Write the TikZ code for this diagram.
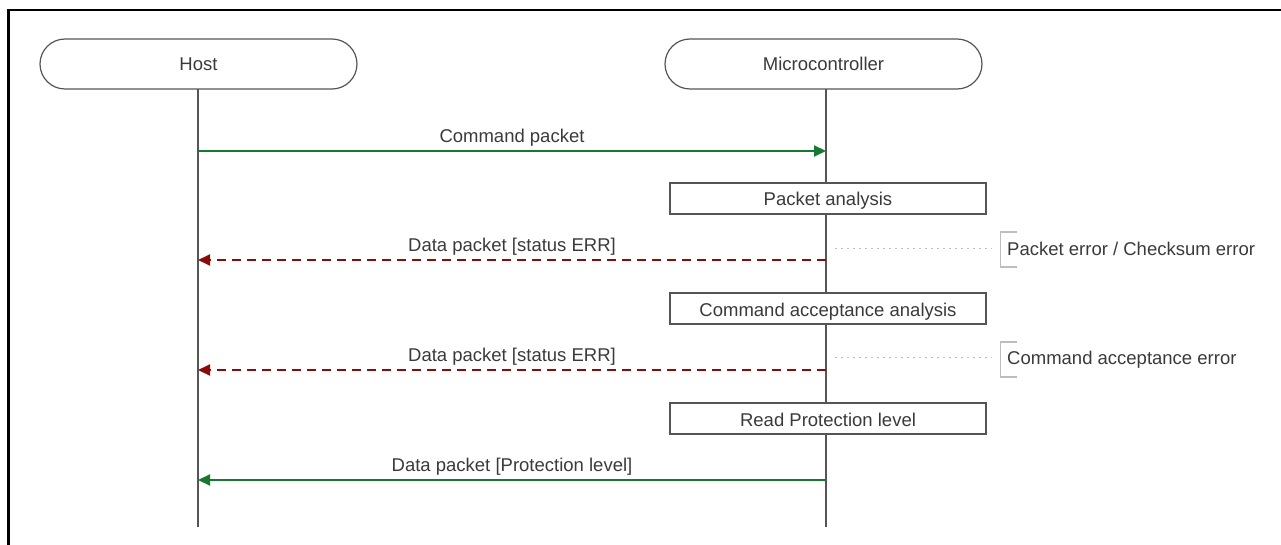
\documentclass[tikz,border=0pt]{standalone}
\usepackage{fontspec}
\setmainfont{Liberation Sans}
\usetikzlibrary{arrows.meta}
\definecolor{txt}{HTML}{3A3A3A}
\definecolor{okgreen}{HTML}{17792F}
\definecolor{errred}{HTML}{8B0A0A}
\definecolor{lifegrey}{HTML}{555555}
\definecolor{notegrey}{HTML}{BDBDBD}
\tikzset{
  every node/.style={font=\fontsize{18.5pt}{20pt}\selectfont, text=txt},
  actor/.style={draw=lifegrey, line width=1.2pt, rounded corners=25pt,
    minimum width=317pt, minimum height=50pt, inner sep=0pt},
  stepbox/.style={draw=lifegrey, line width=1.5pt, fill=white,
    minimum width=316pt, minimum height=31pt, inner sep=0pt},
  steptext/.style={inner sep=0pt, anchor=base},
  lifeline/.style={draw=lifegrey, line width=1.2pt},
  okmsg/.style={draw=okgreen, line width=2pt, -{Triangle[length=12pt,width=11pt]}},
  errmsg/.style={draw=errred, line width=2pt, dash pattern=on 9pt off 6pt,
    -{Triangle[length=12pt,width=11pt]}},
  msglabel/.style={inner sep=0pt, anchor=base},
  notelink/.style={draw=notegrey, line width=0.8pt, dash pattern=on 2pt off 4pt},
  notebracket/.style={draw=notegrey, line width=1.2pt},
  notetext/.style={inner sep=0pt, anchor=base west},
  frameline/.style={draw=black, line width=2.5pt}
}
\begin{document}
\begin{tikzpicture}[x=1pt, y=-1pt]
  \useasboundingbox (0,0) rectangle (1281,545);

  % outer frame edges
  \coordinate (frameTL) at (8.5,10);
  \coordinate (frameTR) at (1281,10);
  \coordinate (frameBL) at (8.5,545);
  \draw[frameline] (frameBL) -- (frameTL) -- (frameTR);

  % participants
  \node[actor] (host) at (198.5,64) {};
  \node[steptext] (hostname) at (198.5,71) {Host};
  \node[actor] (mcu) at (823.5,64) {};
  \node[steptext] (mcuname) at (823.5,71) {Microcontroller};

  % lifelines
  \coordinate (hostTop) at (198,89);
  \coordinate (hostEnd) at (198,527);
  \coordinate (mcuTop) at (826,89);
  \coordinate (mcuEnd) at (826,527);
  \draw[lifeline] (hostTop) -- (hostEnd);
  \draw[lifeline] (mcuTop) -- (mcuEnd);

  % message anchors on the lifelines
  \coordinate (h1) at (198,151);  \coordinate (m1) at (826,151);
  \coordinate (h2) at (198,260);  \coordinate (m2) at (826,260);
  \coordinate (h3) at (198,370);  \coordinate (m3) at (826,370);
  \coordinate (h4) at (198,480);  \coordinate (m4) at (826,480);

  % processing steps on the microcontroller
  \node[stepbox] (analysis) at (828,198.5) {};
  \node[steptext] (analysisT) at (828,206) {Packet analysis};
  \node[stepbox] (accept) at (828,308.5) {};
  \node[steptext] (acceptT) at (828,316) {Command acceptance analysis};
  \node[stepbox] (readprot) at (828,418.5) {};
  \node[steptext] (readprotT) at (828,426) {Read Protection level};

  % messages
  \draw[okmsg] (h1) -- (m1);
  \node[msglabel] (l1) at (512,142.5) {Command packet};

  \draw[errmsg] (m2) -- (h2);
  \node[msglabel] (l2) at (512,251.5) {Data packet [status ERR]};

  \draw[errmsg] (m3) -- (h3);
  \node[msglabel] (l3) at (512,361.5) {Data packet [status ERR]};

  \draw[okmsg] (m4) -- (h4);
  \node[msglabel] (l4) at (512,471.5) {Data packet [Protection level]};

  % notes
  \node[notetext] (n1) at (1007,255) {Packet error / Checksum error};
  \coordinate (n1a) at (835,248);
  \coordinate (n1b) at (992,248);
  \draw[notelink] (n1a) -- (n1b);
  \draw[notebracket] (1017,232) -- (1000.5,232) -- (1000.5,267) -- (1017,267);

  \node[notetext] (n2) at (1007,364) {Command acceptance error};
  \coordinate (n2a) at (835,357);
  \coordinate (n2b) at (992,357);
  \draw[notelink] (n2a) -- (n2b);
  \draw[notebracket] (1017,342) -- (1000.5,342) -- (1000.5,377) -- (1017,377);
\end{tikzpicture}
\end{document}
